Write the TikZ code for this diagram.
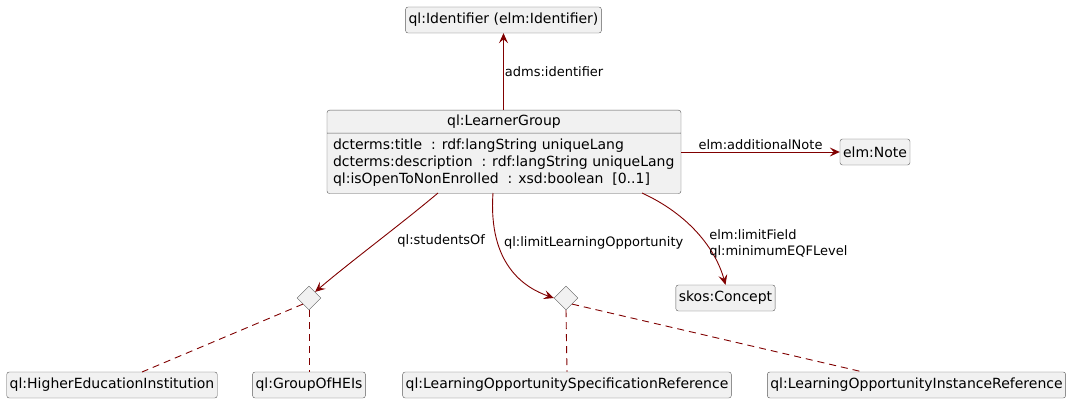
\documentclass[tikz,border=0pt]{standalone}
\usepackage{fontspec}
\setmainfont{DejaVu Sans}
\usetikzlibrary{arrows.meta,shapes.geometric,shapes.multipart}
\definecolor{boxfill}{HTML}{F1F1F1}
\definecolor{boxline}{HTML}{5A5A5A}
\definecolor{linkred}{HTML}{800000}
\tikzset{>={Stealth[length=10pt,width=9pt,inset=4pt]}}
\tikzset{
  cls/.style={draw=boxline, fill=boxfill, rounded corners=2.5pt, minimum height=26pt,
    inner xsep=3pt, inner ysep=0pt, font=\fontsize{14}{17}\selectfont},
  choice/.style={draw=boxline, fill=boxfill, diamond, minimum size=24pt, inner sep=0pt},
  link/.style={->, linkred, line width=0.9pt},
  tie/.style={linkred, line width=0.9pt, dash pattern=on 7pt off 5pt},
  lbl/.style={text=black, font=\fontsize{13}{16}\selectfont, inner sep=1pt, align=left}
}

\begin{document}
\begin{tikzpicture}[x=1pt, y=-1pt]
\useasboundingbox (0,0) rectangle (1080,412);
\node[cls] (ident) at (503.5,20) {ql:Identifier (elm:Identifier)};
\node[cls, rectangle split, rectangle split parts=2, rectangle split part align={center,left},
  minimum width=354pt, anchor=north, inner xsep=6pt, inner ysep=4.5pt] (group) at (504,110)
  {ql:LearnerGroup\nodepart{two}%
  \begin{tabular}{@{}l@{}}dcterms:title~ : rdf:langString uniqueLang\\
  dcterms:description~ : rdf:langString uniqueLang\\
  ql:isOpenToNonEnrolled~ : xsd:boolean~ [0..1]\end{tabular}};
\node[cls] (note) at (875,152) {elm:Note};
\node[cls] (concept) at (725.5,298) {skos:Concept};
\node[choice] (d1) at (309,298) {};
\node[choice] (d2) at (566,298) {};
\node[cls] (hei) at (112,385) {ql:HigherEducationInstitution};
\node[cls] (heigroup) at (309,385) {ql:GroupOfHEIs};
\node[cls] (losr) at (567,385) {ql:LearningOpportunitySpecificationReference};
\node[cls] (loir) at (916.5,385) {ql:LearningOpportunityInstanceReference};
\coordinate (heitop) at (142,372);
\coordinate (loirtop) at (863,372);

% links from the learner group
\draw[link] (group.north -| ident.south) -- (ident.south) node[lbl, pos=0.5, right] {adms:identifier};
\draw[link] (group.east |- note.west) -- (note.west) node[lbl, pos=0.5, above, yshift=1pt] {elm:additionalNote};
\draw[link] (642,193) .. controls (690,215) and (716,250) .. (concept.north)
  node[lbl, pos=0.6, right, xshift=2pt] {elm:limitField\\ql:minimumEQFLevel};
\draw[link] (438,193) .. controls (400,225) and (350,262) .. (d1.north east)
  node[lbl, pos=0.48, right, xshift=18pt] {ql:studentsOf};
\draw[link] (493,193) .. controls (488,265) and (525,288) .. (d2.west)
  node[lbl, pos=0.28, right, xshift=5pt] {ql:limitLearningOpportunity};

% dashed ties
\draw[tie] (d1.south west) -- (heitop);
\draw[tie] (d1.south) -- (heigroup.north);
\draw[tie] (d2.south) -- (losr.north);
\draw[tie] (d2.south east) -- (loirtop);
\end{tikzpicture}
\end{document}
